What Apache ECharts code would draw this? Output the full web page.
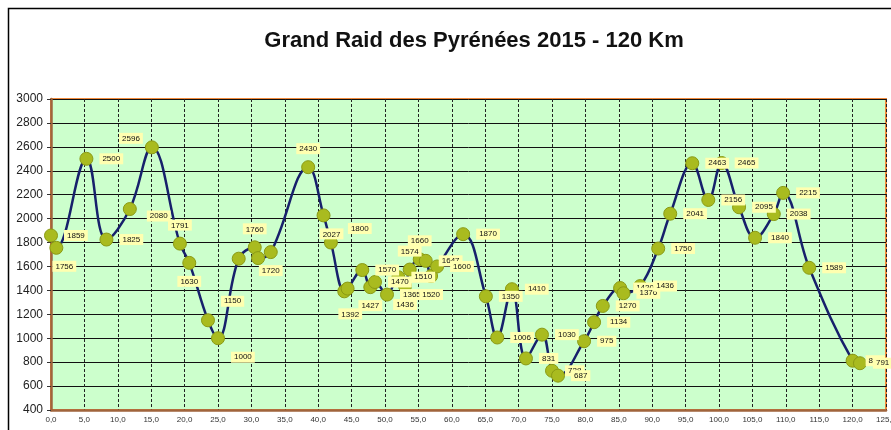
<!DOCTYPE html>
<html>
<head>
<meta charset="utf-8">
<script src="https://cdn.jsdelivr.net/npm/echarts@6/dist/echarts.min.js"></script>
<style>
html,body{margin:0;padding:0;background:#fff;}
#c{width:891px;height:430px;}
</style>
</head>
<body>
<div id="c"></div>
<script>
const titleText = 'Grand Raid des Pyrénées 2015 - 120 Km';
const km = [0.0, 0.8, 5.3, 8.3, 11.8, 15.1, 19.3, 20.7, 23.5, 25.0, 28.1, 30.5, 31.0, 32.9, 38.5, 40.8, 41.9, 43.9, 44.4, 46.6, 47.8, 48.5, 50.3, 52.0, 53.0, 53.7, 55.2, 56.1, 56.9, 57.8, 61.7, 65.1, 66.8, 69.0, 71.1, 73.5, 75.0, 75.9, 79.8, 81.3, 82.6, 85.2, 85.7, 88.2, 90.9, 92.7, 96.0, 98.4, 100.4, 103.0, 105.4, 108.2, 109.6, 113.5, 120.0, 121.1];
const elevation = [1859, 1756, 2500, 1825, 2080, 2596, 1791, 1630, 1150, 1000, 1665, 1760, 1670, 1720, 2430, 2027, 1800, 1392, 1415, 1570, 1427, 1470, 1365, 1510, 1436, 1574, 1660, 1647, 1520, 1600, 1870, 1350, 1006, 1410, 831, 1030, 728, 687, 975, 1134, 1270, 1420, 1376, 1436, 1750, 2041, 2463, 2156, 2465, 2095, 1840, 2038, 2215, 1589, 812, 791];
const unlabeled = [10, 12, 18];
const yTicks = {min: 400, max: 3000, interval: 200};
const xTicks = {min: 0, max: 125, interval: 5};

// label placement (style only)
const labelPlace = {
  1: {position: 'bottom', offset: [8, 0]},
  4: {position: 'right', offset: [4, 7]},
  5: {position: 'left', offset: [4, -9]},
  6: {position: 'top'},
  7: {position: 'bottom'},
  8: {position: 'right', offset: [0, -19]},
  9: {position: 'right', offset: [0, 19]},
  11: {position: 'top'},
  13: {position: 'bottom'},
  14: {position: 'top'},
  15: {position: 'bottom', offset: [8, 0]},
  16: {position: 'right', offset: [4, -14]},
  17: {position: 'bottom', offset: [6, 4]},
  20: {position: 'bottom'},
  24: {position: 'bottom'},
  25: {position: 'top'},
  26: {position: 'top'},
  28: {position: 'bottom'}
};

const data = km.map((k, i) => {
  const item = {value: [k, elevation[i]]};
  if (unlabeled.includes(i)) {
    item.label = {show: false};
  } else if (labelPlace[i]) {
    item.label = Object.assign({}, labelPlace[i]);
  }
  return item;
});

const chart = echarts.init(document.getElementById('c'));
chart.setOption({
  animation: false,
  backgroundColor: '#ffffff',
  title: {
    text: titleText,
    left: 469, top: 25, textAlign: 'center',
    textStyle: {fontFamily: 'Liberation Sans, Arial', fontWeight: 'bold', fontSize: 22, color: '#111'}
  },
  graphic: [{
    type: 'rect', shape: {x: 8.5, y: 8.5, width: 900, height: 440},
    style: {fill: 'none', stroke: '#000', lineWidth: 1.5}, z: 0, silent: true
  }],
  grid: {
    left: 51, right: 5, top: 99, bottom: 20,
    containLabel: false, outerBoundsMode: 'none',
    show: true, backgroundColor: '#ccffcc', borderColor: '#f08a3c', borderWidth: 2
  },
  xAxis: {
    type: 'value', min: xTicks.min, max: xTicks.max, interval: xTicks.interval,
    axisLine: {show: true, onZero: false, lineStyle: {color: '#a0643c', width: 2.5}},
    axisTick: {show: false},
    axisLabel: {
      fontFamily: 'Liberation Sans, Arial', fontSize: 8, color: '#333', margin: 6,
      formatter: v => v.toFixed(1).replace('.', ',')
    },
    splitLine: {show: true, lineStyle: {color: '#222', type: [3, 2], width: 1}}
  },
  yAxis: {
    type: 'value', min: yTicks.min, max: yTicks.max, interval: yTicks.interval,
    axisLine: {show: true, lineStyle: {color: '#a0643c', width: 2.5}},
    axisTick: {show: true, length: 4, lineStyle: {color: '#333'}},
    axisLabel: {fontFamily: 'Liberation Sans, Arial', fontSize: 12, color: '#222', margin: 8,
      formatter: v => String(v)},
    splitLine: {show: true, lineStyle: {color: '#111', width: 1}}
  },
  series: [{
    type: 'line',
    data: data,
    smooth: 0.4,
    symbol: 'circle',
    symbolSize: 13,
    lineStyle: {color: '#17206b', width: 2.5},
    itemStyle: {color: '#a9bb1f', borderColor: '#8a9a14', borderWidth: 1},
    label: {
      show: true, position: 'right', distance: 6,
      formatter: p => String(p.value[1]),
      fontFamily: 'Liberation Sans, Arial', fontSize: 8, color: '#111',
      backgroundColor: '#ffffb0', padding: [2, 3, 1, 3]
    },
    z: 3
  }]
});
</script>
</body>
</html>
